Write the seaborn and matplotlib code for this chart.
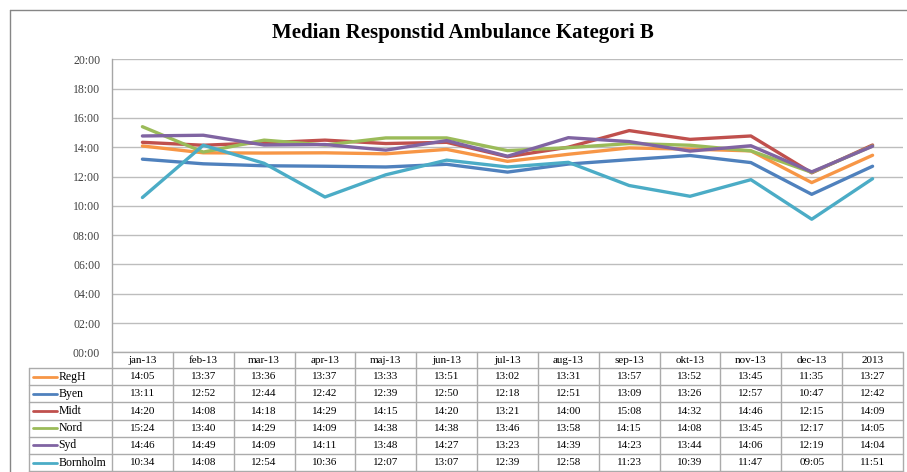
import matplotlib
matplotlib.use("Agg")
import matplotlib.pyplot as plt
from matplotlib.lines import Line2D
from matplotlib import transforms
import seaborn as sns
import pandas as pd

categories = ["jan-13", "feb-13", "mar-13", "apr-13", "maj-13", "jun-13", "jul-13",
              "aug-13", "sep-13", "okt-13", "nov-13", "dec-13", "2013"]
regh = ["14:05", "13:37", "13:36", "13:37", "13:33", "13:51", "13:02", "13:31", "13:57", "13:52", "13:45", "11:35", "13:27"]
byen = ["13:11", "12:52", "12:44", "12:42", "12:39", "12:50", "12:18", "12:51", "13:09", "13:26", "12:57", "10:47", "12:42"]
midt = ["14:20", "14:08", "14:18", "14:29", "14:15", "14:20", "13:21", "14:00", "15:08", "14:32", "14:46", "12:15", "14:09"]
nord = ["15:24", "13:40", "14:29", "14:09", "14:38", "14:38", "13:46", "13:58", "14:15", "14:08", "13:45", "12:17", "14:05"]
syd = ["14:46", "14:49", "14:09", "14:11", "13:48", "14:27", "13:23", "14:39", "14:23", "13:44", "14:06", "12:19", "14:04"]
bornholm = ["10:34", "14:08", "12:54", "10:36", "12:07", "13:07", "12:39", "12:58", "11:23", "10:39", "11:47", "09:05", "11:51"]
series_names = ["RegH", "Byen", "Midt", "Nord", "Syd", "Bornholm"]
series_values = [regh, byen, midt, nord, syd, bornholm]
colors = ["#F79646", "#4F81BD", "#C0504D", "#9BBB59", "#8064A2", "#4BACC6"]
ytick_labels = ["00:00", "02:00", "04:00", "06:00", "08:00", "10:00",
                "12:00", "14:00", "16:00", "18:00", "20:00"]
title = "Median Responstid Ambulance Kategori B"


def to_min(s):
    m, sec = s.split(":")
    return int(m) + int(sec) / 60.0


rows = []
for name, vals in zip(series_names, series_values):
    for i, v in enumerate(vals):
        rows.append({"idx": i, "cat": categories[i], "region": name, "val": to_min(v)})
df = pd.DataFrame(rows)

sns.set_theme(style="white")
plt.rcParams["font.family"] = ["Liberation Serif", "DejaVu Serif"]

W, H = 907, 472
fig = plt.figure(figsize=(W / 100, H / 100), dpi=100)
fig.patch.set_facecolor("white")


def fx(px):
    return px / W


def fy(py):
    return 1 - py / H


ax_left, ax_right, ax_top, ax_bottom = 112, 903, 59.3, 352.3
ax = fig.add_axes([fx(ax_left), fy(ax_bottom), fx(ax_right - ax_left), (ax_bottom - ax_top) / H])

sns.lineplot(data=df, x="idx", y="val", hue="region", hue_order=series_names,
             palette=colors, linewidth=2.4, legend=False, ax=ax, sort=False)

ax.set_xlim(-0.5, len(categories) - 0.5)
ax.set_ylim(0, 20)
ax.set_yticks(range(0, 21, 2))
ax.set_yticklabels(ytick_labels, fontsize=8.5, color="#404040")
ax.set_xticks([])
ax.set_xlabel("")
ax.set_ylabel("")
ax.yaxis.grid(True, color="#BDBDBD", linewidth=1)
ax.set_axisbelow(True)
for s in ["top", "right", "bottom"]:
    ax.spines[s].set_visible(False)
ax.spines["left"].set_color("#A6A6A6")
ax.spines["left"].set_linewidth(1)
ax.tick_params(axis="y", length=0, pad=8.5)

# Title
fig.text(fx(463), fy(33), title, ha="center", va="center", fontsize=15,
         fontweight="bold", color="black")

# Outer chart border
bc = "#868686"
fig.add_artist(Line2D([fx(10), fx(10)], [0, fy(10)], color=bc, lw=1, transform=fig.transFigure))
fig.add_artist(Line2D([fx(10), 1], [fy(10), fy(10)], color=bc, lw=1, transform=fig.transFigure))

# Data table
tc = "#ABABAB"
blend = transforms.blended_transform_factory(ax.transData, fig.transFigure)
header_bottom = 368.0
row_h = 17.2
n = len(categories)
fig.add_artist(Line2D([-0.5, n - 0.5], [fy(ax_bottom), fy(ax_bottom)], color=tc, lw=1, transform=blend))
for k in range(n + 1):
    xb = k - 0.5
    fig.add_artist(Line2D([xb, xb], [fy(ax_bottom), 0], color=tc, lw=1, transform=blend))
for i, c in enumerate(categories):
    fig.text(i, fy((ax_bottom + header_bottom) / 2), c, ha="center", va="center",
             fontsize=8, color="black", transform=blend)
label_left = 29.3
fig.add_artist(Line2D([fx(label_left), fx(label_left)], [fy(header_bottom), 0], color=tc, lw=1,
                      transform=fig.transFigure))
for r in range(len(series_names) + 1):
    yb = header_bottom + r * row_h
    fig.add_artist(Line2D([fx(label_left), fx(ax_left)], [fy(yb), fy(yb)], color=tc, lw=1,
                          transform=fig.transFigure))
    fig.add_artist(Line2D([-0.5, n - 0.5], [fy(yb), fy(yb)], color=tc, lw=1, transform=blend))
for r, (name, vals, col) in enumerate(zip(series_names, series_values, colors)):
    yc = header_bottom + (r + 0.5) * row_h
    fig.add_artist(Line2D([fx(33), fx(57.5)], [fy(yc), fy(yc)], color=col, lw=2,
                          transform=fig.transFigure))
    fig.text(fx(58.5), fy(yc), name, ha="left", va="center", fontsize=8.5, color="black")
    for i, v in enumerate(vals):
        fig.text(i, fy(yc), v, ha="center", va="center", fontsize=8, color="black",
                 transform=blend)

fig.savefig("out.png", dpi=100, facecolor="white")
